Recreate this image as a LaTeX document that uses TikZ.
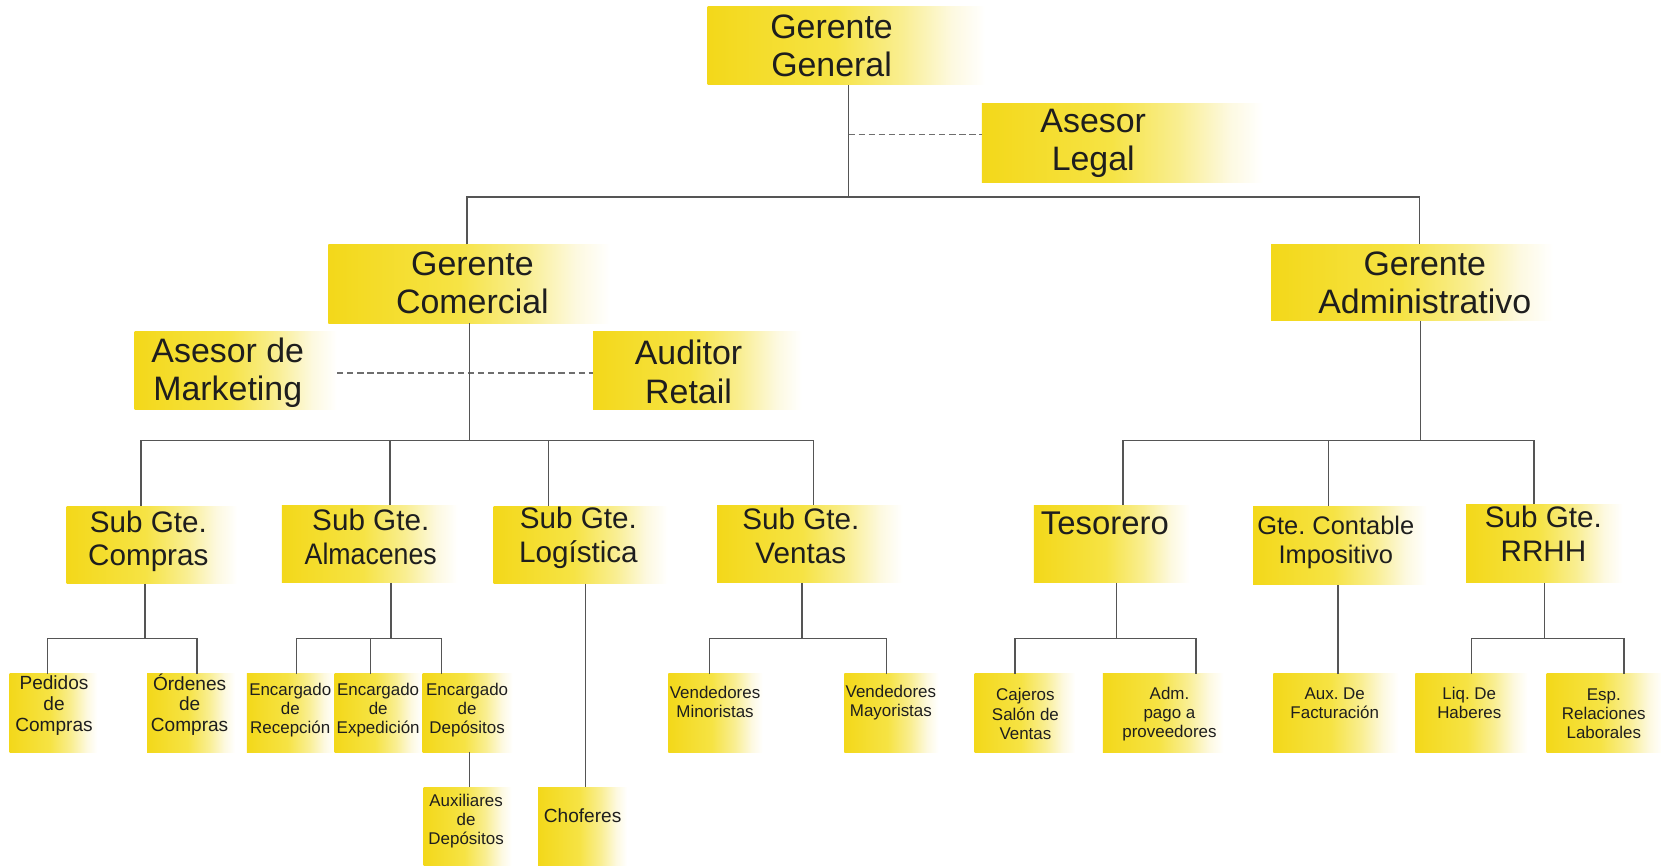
\documentclass[tikz,border=0pt]{standalone}
\usepackage{fontspec}
\setmainfont{Liberation Sans}
\usetikzlibrary{fit}
\frenchspacing

\definecolor{yl}{RGB}{243,216,26}
\definecolor{ym}{RGB}{246,227,68}
\definecolor{yh}{RGB}{249,238,145}
\definecolor{yw}{RGB}{253,249,224}
\definecolor{linegray}{RGB}{85,85,85}
\definecolor{dashgray}{RGB}{110,110,110}
\definecolor{ink}{RGB}{30,30,30}

% yellow fill that fades out to white towards the right edge
\pgfdeclarehorizontalshading{fadebox}{100bp}{color(0bp)=(yl); color(25bp)=(yl); color(48bp)=(ym); color(60bp)=(yh); color(69bp)=(yw); color(75bp)=(white); color(100bp)=(white)}

\tikzset{
  box/.style={rectangle, inner sep=0pt, shade, shading=fadebox},
  lbl/.style={text=ink, align=center, inner sep=0pt},
  big/.style={lbl, font=\fontsize{32}{36}\selectfont},
  mid/.style={lbl, font=\fontsize{28}{32}\selectfont},
  small/.style={lbl, font=\fontsize{16}{18}\selectfont},
  smallb/.style={lbl, font=\fontsize{18}{19.5}\selectfont},
  conn/.style={draw=linegray, line width=1.3pt},
  dashconn/.style={draw=dashgray, line width=1.2pt, dash pattern=on 6pt off 3.5pt},
}

\begin{document}
\begin{tikzpicture}[x=1pt, y=-1pt]
\useasboundingbox (0,0) rectangle (1568,817);

% ---------- boxes ----------
\node[box, fit={(668,6) (930,80)}]      (GG)  {};
\node[box, fit={(927,98) (1192,172)}]   (AL)  {};
\node[box, fit={(310,231) (576,305)}]   (GC)  {};
\node[box, fit={(1200,231) (1466,303)}] (GA)  {};
\node[box, fit={(127,313) (318,387)}]   (AM)  {};
\node[box, fit={(560,313) (757,387)}]   (AR)  {};
\node[box, fit={(63,478) (224,551)}]    (SC)  {};
\node[box, fit={(266,477) (432,550)}]   (SA)  {};
\node[box, fit={(466,478) (630,551)}]   (SL)  {};
\node[box, fit={(677,477) (852,550)}]   (SV)  {};
\node[box, fit={(976,477) (1123,550)}]  (TS)  {};
\node[box, fit={(1183,478) (1347,552)}] (GCI) {};
\node[box, fit={(1384,476) (1532,550)}] (RH)  {};
\node[box, fit={(9,636) (92,710)}]      (PC)  {};
\node[box, fit={(139,636) (222,710)}]   (OC)  {};
\node[box, fit={(233,636) (316,710)}]   (ER)  {};
\node[box, fit={(316,636) (398,710)}]   (EE)  {};
\node[box, fit={(399,636) (484,710)}]   (ED)  {};
\node[box, fit={(400,743) (483,817)}]   (AD)  {};
\node[box, fit={(508,743) (592,817)}]   (CH)  {};
\node[box, fit={(631,636) (720,710)}]   (VMI) {};
\node[box, fit={(797,636) (886,710)}]   (VMA) {};
\node[box, fit={(920,636) (1015,710)}]  (CJ)  {};
\node[box, fit={(1041,636) (1155,710)}] (ADM) {};
\node[box, fit={(1202,636) (1320,710)}] (AF)  {};
\node[box, fit={(1336,636) (1442,710)}] (LQ)  {};
\node[box, fit={(1460,636) (1570,710)}] (ES)  {};

% ---------- labels ----------
\node[big] (GG-t) at (785,43)   {Gerente\\General};
\node[big] (AL-t) at (1032,135) {Asesor\\Legal};
\node[big] (GC-t) at (446,267)  {Gerente\\Comercial};
\node[big] (GA-t) at (1345,267) {Gerente\\Administrativo};
\node[big] (AM-t) at (215,352)  {Asesor de\\Marketing};
\node[big] (AR-t) at (650,351)  {Auditor\\Retail};

\node[mid] (SC-t) at (140,511)  {Sub Gte.\\Compras};
\node[mid] (SA-t) at (350,507)  {Sub Gte.\\\scalebox{0.9}[1]{Almacenes}};
\node[mid] (SL-t) at (546,508)  {Sub Gte.\\Logística};
\node[mid] (SV-t) at (756,506)  {Sub Gte.\\Ventas};
\node[lbl, font=\fontsize{31}{34}\selectfont] (TS-t) at (1043,494) {Tesorero};
\node[lbl, font=\fontsize{24}{28}\selectfont] (GCI-t) at (1261,512) {Gte. Contable\\Impositivo};
\node[mid] (RH-t) at (1457,504) {Sub Gte.\\RRHH};

\node[smallb] (PC-t)  at (51,666)   {Pedidos\\de\\Compras};
\node[smallb] (OC-t)  at (179,665)  {Órdenes\\de\\Compras};
\node[small]  (ER-t)  at (274,670)  {Encargado\\de\\Recepción};
\node[small]  (EE-t)  at (357,670)  {Encargado\\de\\Expedición};
\node[small]  (ED-t)  at (441,670)  {Encargado\\de\\Depósitos};
\node[small]  (AD-t)  at (440,775)  {Auxiliares\\de\\Depósitos};
\node[smallb] (CH-t)  at (550,770)  {Choferes};
\node[small]  (VMI-t) at (675,663)  {Vendedores\\Minoristas};
\node[small]  (VMA-t) at (841,663)  {Vendedores\\Mayoristas};
\node[small]  (CJ-t)  at (968,674)  {Cajeros\\Salón de\\Ventas};
\node[small]  (ADM-t) at (1104,674) {Adm.\\pago a\\proveedores};
\node[small]  (AF-t)  at (1260,664) {Aux. De\\Facturación};
\node[small]  (LQ-t)  at (1387,664) {Liq. De\\Haberes};
\node[small]  (ES-t)  at (1514,674) {Esp.\\Relaciones\\Laborales};

% ---------- junction points ----------
\coordinate (t0)  at (801,186);
\coordinate (t0l) at (441,186);
\coordinate (t0r) at (1340,186);
\coordinate (lg)  at (801,127);
\coordinate (k0)  at (443,416);
\coordinate (k1)  at (133,416);
\coordinate (k2)  at (368,416);
\coordinate (k3)  at (518,416);
\coordinate (k4)  at (768,416);
\coordinate (m0)  at (1341,416);
\coordinate (m1)  at (1060,416);
\coordinate (m2)  at (1254,416);
\coordinate (m3)  at (1448,416);
\coordinate (c0)  at (137,603);
\coordinate (c1)  at (45,603);
\coordinate (c2)  at (186,603);
\coordinate (a0)  at (369,603);
\coordinate (a1)  at (280,603);
\coordinate (a2)  at (350,603);
\coordinate (a3)  at (417,603);
\coordinate (dx)  at (443,0);
\coordinate (lx)  at (553,0);
\coordinate (v0)  at (757,603);
\coordinate (v1)  at (670,603);
\coordinate (v2)  at (837,603);
\coordinate (s0)  at (1054,603);
\coordinate (s1)  at (958,603);
\coordinate (s2)  at (1129,603);
\coordinate (fx)  at (1263,0);
\coordinate (r0)  at (1458,603);
\coordinate (r1)  at (1389,603);
\coordinate (r2)  at (1533,603);

% ---------- connectors ----------
% top level
\draw[conn] (GG.south -| t0) -- (t0);
\draw[conn] (GC.north -| t0l) -- (t0l) -- (t0r) -- (GA.north -| t0r);
\draw[dashconn] (lg) -- (lg -| AL.west);

% commercial branch
\draw[dashconn] (AM.east |- 0,352) -- (AR.west |- 0,352);
\draw[conn] (GC.south -| k0) -- (k0);
\draw[conn] (SC.north -| k1) -- (k1) -- (k4) -- (SV.north -| k4);
\draw[conn] (SA.north -| k2) -- (k2);
\draw[conn] (SL.north -| k3) -- (k3);

% administrative branch
\draw[conn] (GA.south -| m0) -- (m0);
\draw[conn] (TS.north -| m1) -- (m1) -- (m3) -- (RH.north -| m3);
\draw[conn] (GCI.north -| m2) -- (m2);

% purchasing
\draw[conn] (SC.south -| c0) -- (c0);
\draw[conn] (PC.north -| c1) -- (c1) -- (c2) -- (OC.north -| c2);

% warehouses
\draw[conn] (SA.south -| a0) -- (a0);
\draw[conn] (ER.north -| a1) -- (a1) -- (a3) -- (ED.north -| a3);
\draw[conn] (EE.north -| a2) -- (a2);
\draw[conn] (ED.south -| dx) -- (AD.north -| dx);

% logistics
\draw[conn] (SL.south -| lx) -- (CH.north -| lx);

% sales
\draw[conn] (SV.south -| v0) -- (v0);
\draw[conn] (VMI.north -| v1) -- (v1) -- (v2) -- (VMA.north -| v2);

% treasury
\draw[conn] (TS.south -| s0) -- (s0);
\draw[conn] (CJ.north -| s1) -- (s1) -- (s2) -- (ADM.north -| s2);

% accounting
\draw[conn] (GCI.south -| fx) -- (AF.north -| fx);

% human resources
\draw[conn] (RH.south -| r0) -- (r0);
\draw[conn] (LQ.north -| r1) -- (r1) -- (r2) -- (ES.north -| r2);

\end{tikzpicture}
\end{document}
